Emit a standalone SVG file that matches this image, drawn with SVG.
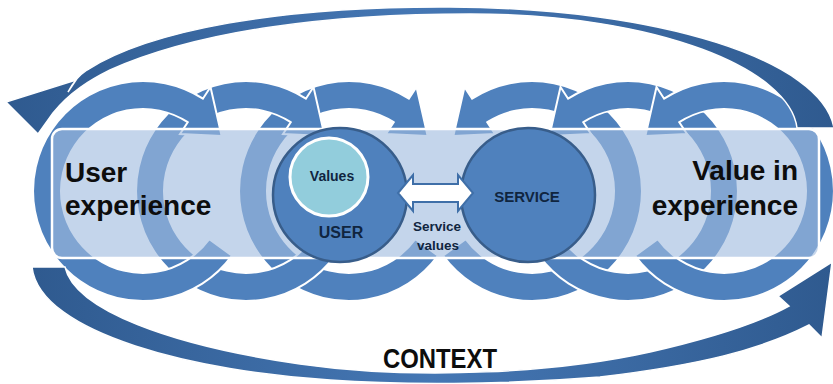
<svg xmlns="http://www.w3.org/2000/svg" width="833" height="384" viewBox="0 0 833 384">
<style>
.ring{fill:#4f81bd;stroke:#ffffff;stroke-width:2}
.big{stroke:#ffffff;stroke-width:1.5}
.bar{fill:#a0bcdf;fill-opacity:0.62;stroke:#ffffff;stroke-width:2.5}
.node{fill:#4f81bd;stroke:#385d8a;stroke-width:2.5}
.big-t{font-family:"Liberation Sans",Arial,sans-serif;font-weight:bold;font-size:28px;fill:#0d0d0d}
.mid-t{font-family:"Liberation Sans",Arial,sans-serif;font-weight:bold;fill:#10253f}
</style>
<defs>
<path id="ringL" d="M66.3,48.2 L89,64.7 A110,110 0 1 1 59.9,-92.3 L67.5,-104 L78.6,-55.1 L37,-57 L44.7,-68.8 A82,82 0 1 0 66.3,48.2 Z"/>
<linearGradient id="bigGrad" x1="0" y1="0" x2="1" y2="0">
<stop offset="0" stop-color="#2f5a8f"/>
<stop offset="0.5" stop-color="#4577b4"/>
<stop offset="1" stop-color="#2f5a8f"/>
</linearGradient>
</defs>
<g id="rings-right">
<use href="#ringL" class="ring" transform="translate(532,191) scale(-1,1)"/>
<use href="#ringL" class="ring" transform="translate(628,191) scale(-1,1)"/>
<use href="#ringL" class="ring" transform="translate(724,191) scale(-1,1)"/>
</g>
<g id="rings-left">
<use href="#ringL" class="ring" transform="translate(349,191)"/>
<use href="#ringL" class="ring" transform="translate(246,191)"/>
<use href="#ringL" class="ring" transform="translate(143,191)"/>
</g>
<g id="connectors">
<path id="context-top" class="big" fill="url(#bigGrad)" d="M834,128 C822,60 660,8 450,7 C280,6 150,30 87,70 Q75,78 68,92 L76,80 L6,102 L38,134 L53,113 C70,92 90,80 110,70 C200,30 330,14 470,14 C660,14 790,70 797,128 Z"/>
<path id="context-bottom" class="big" fill="url(#bigGrad)" d="M32,267 L65,267 C75,310 170,345 300,364 C420,381 560,372 650,352 C720,336 760,322 789,306 L778,296 L832,262 L822,338 L809,325 C760,350 700,365 600,377 C500,385 400,385 330,380 C200,372 40,335 32,267 Z"/>
</g>
<g id="bar">
<rect class="bar" x="52" y="129" width="767" height="129" rx="10" ry="10"/>
</g>
<g id="user-experience">
<text class="big-t" x="65" y="182">User</text>
<text class="big-t" x="65" y="215">experience</text>
</g>
<g id="value-in-experience">
<text class="big-t" x="798" y="180" text-anchor="end">Value in</text>
<text class="big-t" x="798" y="215" text-anchor="end">experience</text>
</g>
<g id="user">
<circle class="node" cx="340" cy="195" r="67"/>
<text class="mid-t" x="341" y="238" font-size="16" text-anchor="middle">USER</text>
</g>
<g id="values">
<circle cx="329" cy="177" r="39" fill="#92cddc" stroke="#ffffff" stroke-width="3"/>
<text class="mid-t" x="332" y="181" font-size="14" text-anchor="middle">Values</text>
</g>
<g id="service">
<circle class="node" cx="528" cy="195" r="67"/>
<text class="mid-t" x="527" y="202" font-size="15" text-anchor="middle">SERVICE</text>
</g>
<g id="exchange">
<path d="M398,193 L413,175 L413,184 L458,184 L458,175 L473,193 L458,211 L458,202 L413,202 L413,211 Z" fill="#ffffff" stroke="#3f6fa8" stroke-width="2"/>
<text class="mid-t" x="437" y="231" font-size="13.5" text-anchor="middle" fill="#0d0d0d">Service</text>
<text class="mid-t" x="438" y="250" font-size="13.5" text-anchor="middle" fill="#0d0d0d">values</text>
</g>
<g id="context">
<text class="big-t" x="440" y="368" font-size="24" text-anchor="middle" textLength="114" lengthAdjust="spacingAndGlyphs">CONTEXT</text>
</g>
</svg>
